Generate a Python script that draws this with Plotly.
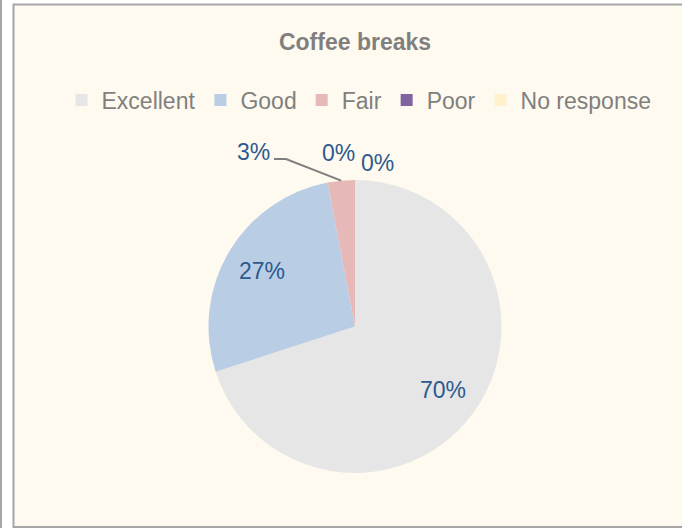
import math
import plotly.graph_objects as go

# ---- data ----
categories = ["Excellent", "Good", "Fair", "Poor", "No response"]
values = [70, 27, 3, 0, 0]
colors = ["#E6E6E6", "#B9CDE5", "#E6B9B8", "#8064A2", "#FFF2CC"]
title_text = "Coffee breaks"

W, H = 682, 528
cx, cy, R = 355, 326.5, 146.5  # pie centre / radius in px (from top-left)

def px(x):
    return x / W

def py(y):
    return 1 - y / H

fig = go.Figure()
fig.add_trace(go.Pie(
    labels=categories,
    values=values,
    marker=dict(colors=colors, line=dict(width=0)),
    sort=False,
    direction="clockwise",
    rotation=0,
    textinfo="none",
    hoverinfo="label+percent",
    domain=dict(x=[px(cx - R), px(cx + R)], y=[py(cy + R), py(cy - R)]),
    showlegend=True,
))

total = sum(values)
label_font = dict(family="Liberation Sans, Arial, sans-serif", size=23, color="#2C5A8E")

annotations = []
shapes = []

# frame
shapes.append(dict(type="line", xref="paper", yref="paper",
                   x0=px(1), x1=px(1), y0=0, y1=1,
                   line=dict(color="#A6A6A6", width=2), layer="below"))
shapes.append(dict(type="rect", xref="paper", yref="paper",
                   x0=px(13.5), x1=px(W + 10), y0=py(527), y1=py(4.5),
                   fillcolor="#FFFAEF", line=dict(color="#A6A6A6", width=2), layer="below"))

# label positions for small slices (placed outside)
outside_pos = {2: (253, 152), 3: (338, 153), 4: (378, 163)}

cum = 0
for i, v in enumerate(values):
    frac_mid = (cum + v / 2) / total
    cum += v
    theta = 2 * math.pi * frac_mid
    txt = f"{round(100 * v / total)}%"
    if i in outside_pos:
        lx, ly = outside_pos[i]
    else:
        lx = cx + 0.74 * R * math.sin(theta)
        ly = cy - 0.74 * R * math.cos(theta)
    annotations.append(dict(x=px(lx), y=py(ly), xref="paper", yref="paper",
                            text=txt, showarrow=False, font=label_font,
                            xanchor="center", yanchor="middle"))
    if i == 2:
        ex = cx + R * math.sin(theta)
        ey = cy - R * math.cos(theta)
        path = (f"M {px(274)} {py(159)} L {px(286)} {py(159)} L {px(ex)} {py(ey)}")
        shapes.append(dict(type="path", xref="paper", yref="paper", path=path,
                           line=dict(color="#7F7F7F", width=2)))

fig.update_layout(
    width=W, height=H,
    margin=dict(l=0, r=0, t=0, b=0),
    paper_bgcolor="white",
    plot_bgcolor="rgba(0,0,0,0)",
    title=dict(text=f"<b>{title_text}</b>", x=px(355), y=py(42),
               xanchor="center", yanchor="middle",
               font=dict(family="Liberation Sans, Arial, sans-serif", size=23, color="#7F7F7F")),
    legend=dict(orientation="h", x=px(359), y=py(100), xanchor="center", yanchor="middle",
                font=dict(family="Liberation Sans, Arial, sans-serif", size=23, color="#7F7F7F"),
                bgcolor="rgba(0,0,0,0)", traceorder="normal", itemwidth=30),
    annotations=annotations,
    shapes=shapes,
)

fig.write_html("out.html", config={"displayModeBar": False},
               post_script="document.body.style.margin='0';")
